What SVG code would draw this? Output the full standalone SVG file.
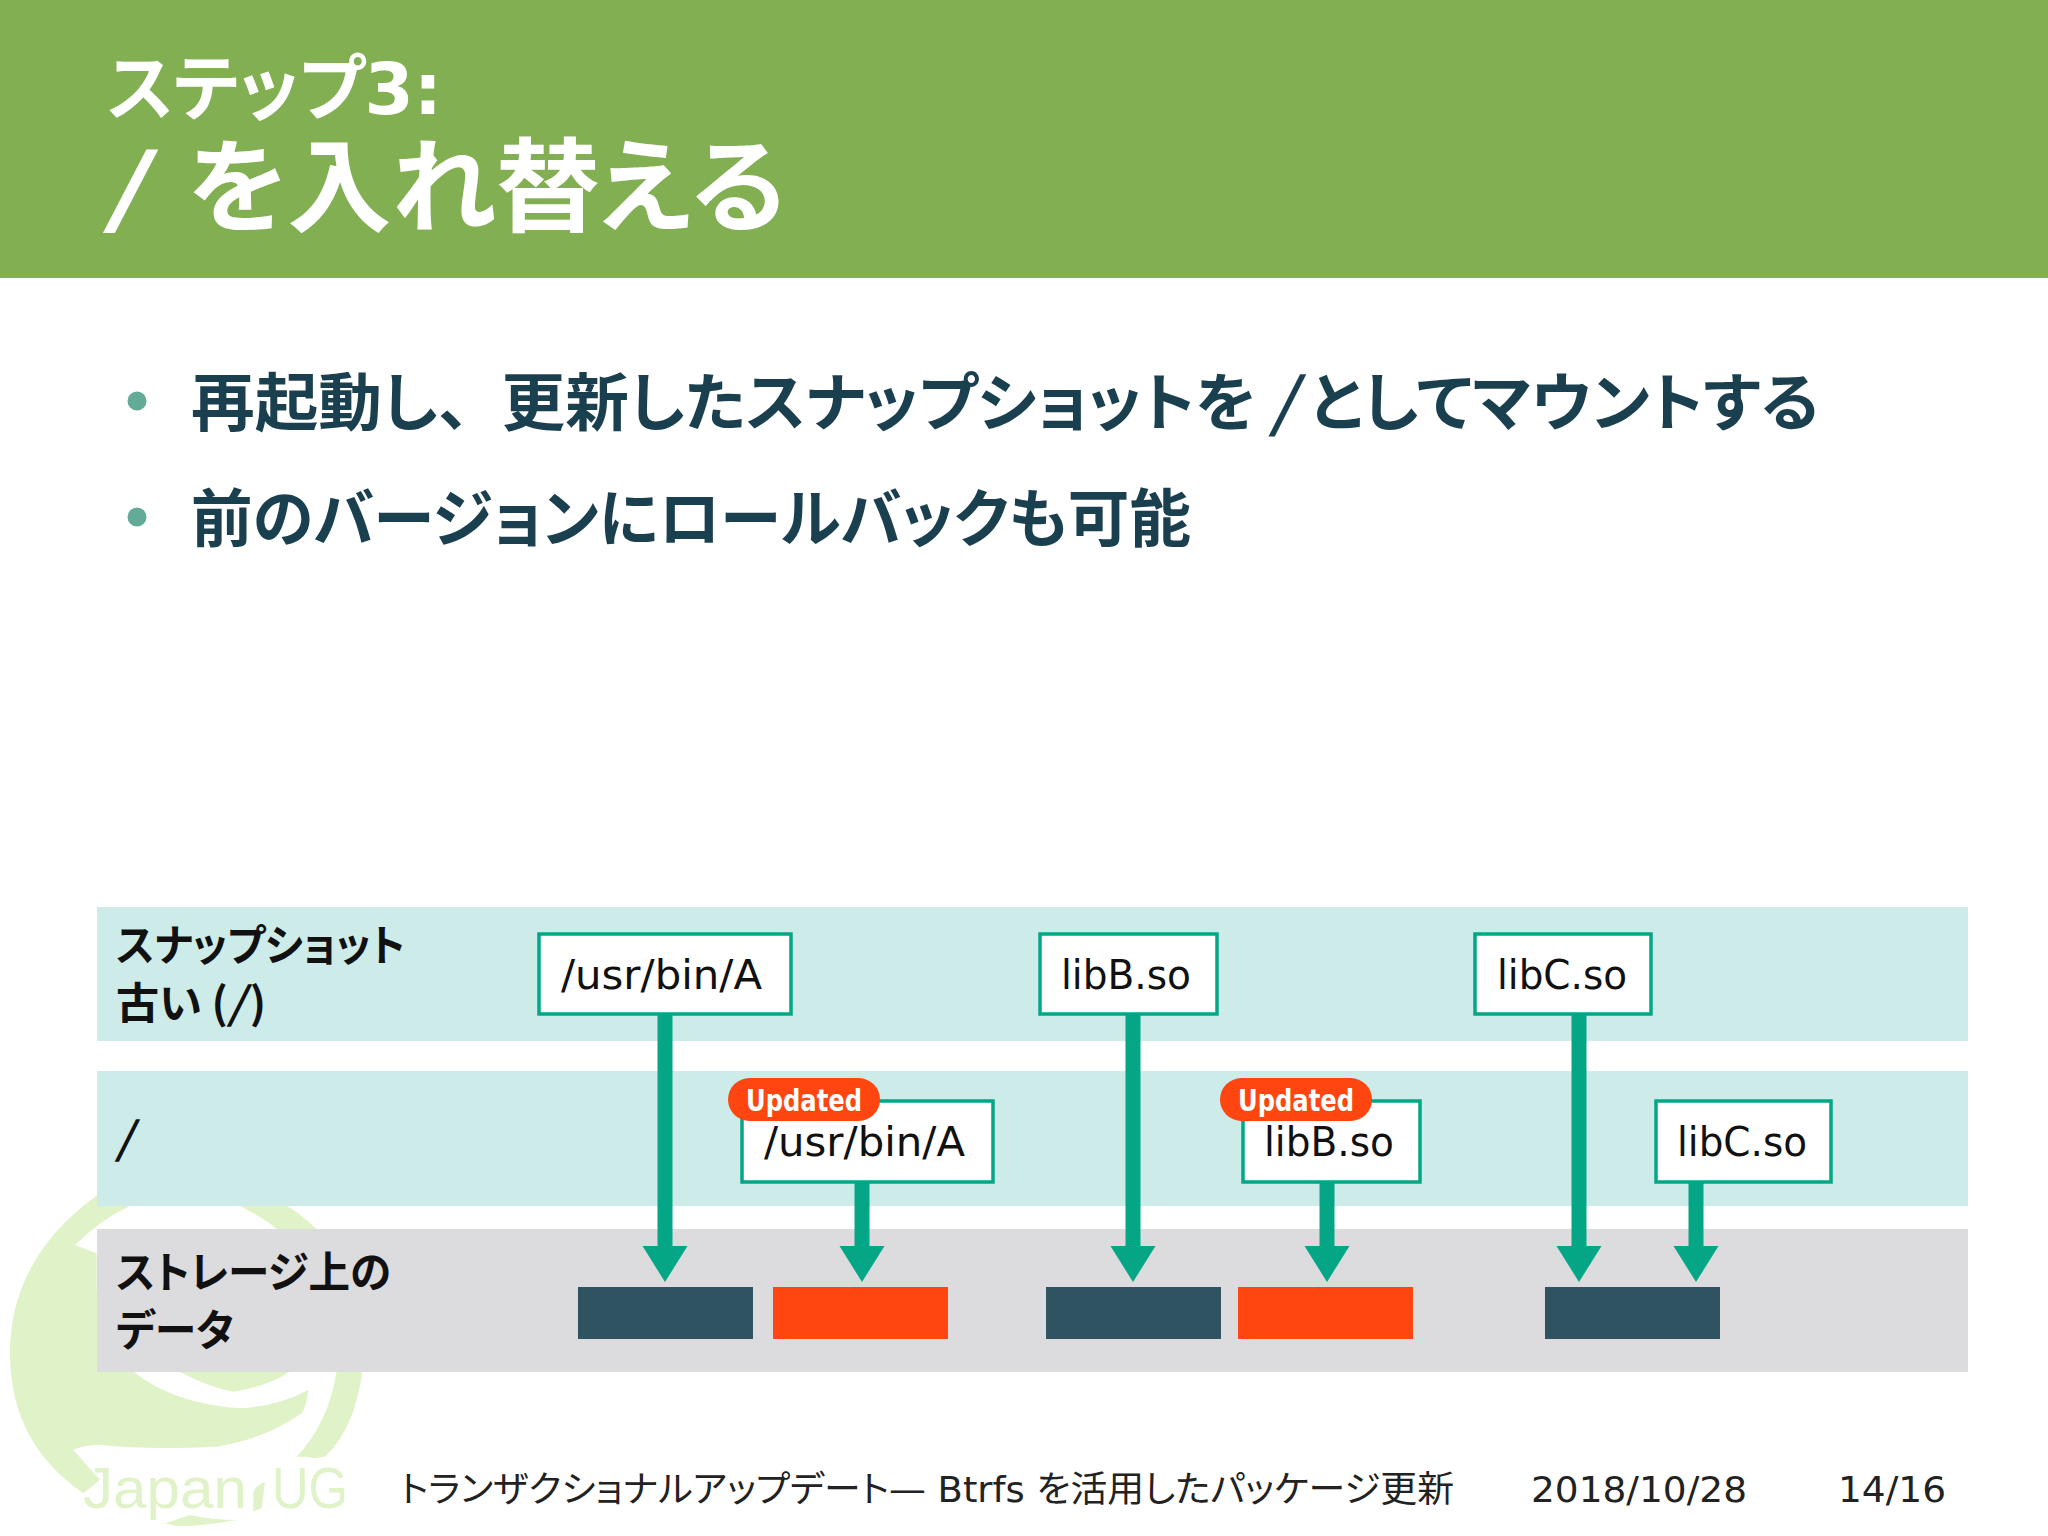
<svg xmlns="http://www.w3.org/2000/svg" width="2048" height="1536" viewBox="0 0 2048 1536">
<defs>
<style>
text{font-family:"DejaVu Sans","Noto Sans CJK JP",sans-serif;font-feature-settings:"palt"}
.band{fill:#cdebe8}
.box{fill:#fff;stroke:#04a686;stroke-width:3.5}
.name{font-size:40px;fill:#111}
.lab{font-size:43px;font-weight:700;fill:#111;font-family:"Noto Sans CJK JP",sans-serif}
.bul{font-size:63px;font-weight:700;fill:#1a3f4f;font-family:"Noto Sans CJK JP",sans-serif}
.foot{font-size:36px;fill:#222}
.pill{fill:#ff4611}
.upd{font-size:30px;font-weight:700;fill:#fff}
.dark{fill:#2f5360}
.red{fill:#ff4611}
.logo{fill:#e0f2c8}
.ar{fill:#04a686}
.it{font-style:italic}
.full{font-feature-settings:normal}
</style>
<marker id="head" markerUnits="userSpaceOnUse" markerWidth="36" markerHeight="46" refX="0" refY="23" orient="auto"><path class="ar" d="M0 0.5L36 23L0 45.5Z"/></marker>
</defs>
<rect width="2048" height="1536" fill="#fff"/>
<g id="logo">
<g transform="translate(0 1190) scale(.3333)" class="logo">
<path d="M300 10Q30 200 30 490Q30 760 250 910L300 870L220 780Q250 765 300 765Q450 780 650 770Q800 745 905 670Q920 650 925 600Q830 650 720 655Q520 640 400 545L290 300V190L225 165Q300 90 390 47V20Z"/>
<path d="M540 545Q620 590 700 605Q800 590 870 545V500H540Z"/>
<path d="M720 47Q800 90 830 117H950Q900 70 860 47Z"/>
<path d="M1010 500H1085V560Q1060 720 975 800L945 805L915 800L890 800Q985 700 1010 545Z"/>
<path d="M495 1000Q540 985 570 975Q640 990 710 990Q600 1010 530 1008Z"/>
<path d="M760 965V905Q770 885 795 875L785 955Z"/>
</g>
<text x="83" y="1508" font-size="58" fill="#e0f2c8" style="font-family:'Liberation Sans',sans-serif" textLength="164" lengthAdjust="spacingAndGlyphs">Japan</text>
<text x="272" y="1508" font-size="58" fill="#e0f2c8" style="font-family:'Liberation Sans',sans-serif" textLength="76" lengthAdjust="spacingAndGlyphs">UG</text>
</g>
<g id="header">
<rect width="2048" height="278" fill="#82af51"/>
<text x="107" y="114" font-size="72" font-weight="700" fill="#fff" textLength="335" lengthAdjust="spacingAndGlyphs">ステップ3:</text>
<text x="113" y="224" font-size="102" font-weight="700" fill="#fff" textLength="673" lengthAdjust="spacingAndGlyphs"><tspan class="it">/</tspan> を入れ替える</text>
</g>
<g id="bullets">
<circle cx="137" cy="401" r="9.5" fill="#64ab97"/>
<circle cx="137" cy="517" r="9.5" fill="#64ab97"/>
<text class="bul" x="191" y="425" textLength="1628" lengthAdjust="spacingAndGlyphs">再起動し<tspan class="full">、</tspan>更新したスナップショットを <tspan class="it">/</tspan> としてマウントする</text>
<text class="bul" x="191" y="541" textLength="1000" lengthAdjust="spacingAndGlyphs">前のバージョンにロールバックも可能</text>
</g>
<g id="bands">
<rect class="band" x="97" y="907" width="1871" height="134"/>
<rect class="band" x="97" y="1071" width="1871" height="135"/>
<rect x="97" y="1229" width="1871" height="143" fill="#dcdbdd"/>
<text class="lab" x="116" y="961" textLength="289" lengthAdjust="spacingAndGlyphs">スナップショット</text>
<text class="lab" x="116" y="1019" textLength="150" lengthAdjust="spacingAndGlyphs">古い (<tspan class="it">/</tspan><tspan dx="5">)</tspan></text>
<text class="lab it" x="116" y="1154">/</text>
<text class="lab" x="116" y="1288" textLength="275" lengthAdjust="spacingAndGlyphs">ストレージ上の</text>
<text class="lab" x="116" y="1346" textLength="118" lengthAdjust="spacingAndGlyphs">データ</text>
</g>
<g id="storage">
<rect class="dark" x="578" y="1287" width="175" height="52"/>
<rect class="red" x="773" y="1287" width="175" height="52"/>
<rect class="dark" x="1046" y="1287" width="175" height="52"/>
<rect class="red" x="1238" y="1287" width="175" height="52"/>
<rect class="dark" x="1545" y="1287" width="175" height="52"/>
</g>
<g id="connectors" fill="none" stroke="#04a686" stroke-width="15" marker-end="url(#head)">
<path d="M665 1015V1246"/>
<path d="M862 1183V1246"/>
<path d="M1133 1015V1246"/>
<path d="M1327 1183V1246"/>
<path d="M1579 1015V1246"/>
<path d="M1696 1183V1246"/>
</g>
<g id="n-a-old"><rect class="box" x="539" y="934" width="252" height="80"/><text class="name" x="561" y="989" textLength="201" lengthAdjust="spacingAndGlyphs">/usr/bin/A</text></g>
<g id="n-b-old"><rect class="box" x="1040" y="934" width="177" height="80"/><text class="name" x="1061" y="989" textLength="130" lengthAdjust="spacingAndGlyphs">libB.so</text></g>
<g id="n-c-old"><rect class="box" x="1475" y="934" width="176" height="80"/><text class="name" x="1497" y="989" textLength="130" lengthAdjust="spacingAndGlyphs">libC.so</text></g>
<g id="n-a-new"><rect class="box" x="742" y="1101" width="251" height="81"/><text class="name" x="764" y="1156" textLength="201" lengthAdjust="spacingAndGlyphs">/usr/bin/A</text>
<rect class="pill" x="728" y="1078" width="152" height="43" rx="21.5"/><text class="upd" x="746" y="1111" textLength="116" lengthAdjust="spacingAndGlyphs">Updated</text></g>
<g id="n-b-new"><rect class="box" x="1243" y="1101" width="177" height="81"/><text class="name" x="1264" y="1156" textLength="130" lengthAdjust="spacingAndGlyphs">libB.so</text>
<rect class="pill" x="1220" y="1078" width="152" height="43" rx="21.5"/><text class="upd" x="1238" y="1111" textLength="116" lengthAdjust="spacingAndGlyphs">Updated</text></g>
<g id="n-c-new"><rect class="box" x="1656" y="1101" width="175" height="81"/><text class="name" x="1677" y="1156" textLength="130" lengthAdjust="spacingAndGlyphs">libC.so</text></g>
<g id="footer">
<text class="foot" x="400" y="1502" textLength="1054" lengthAdjust="spacingAndGlyphs">トランザクショナルアップデート— Btrfs を活用したパッケージ更新</text>
<text class="foot" x="1531" y="1502" textLength="216" lengthAdjust="spacingAndGlyphs">2018/10/28</text>
<text class="foot" x="1838" y="1502" textLength="108" lengthAdjust="spacingAndGlyphs">14/16</text>
</g>
</svg>
